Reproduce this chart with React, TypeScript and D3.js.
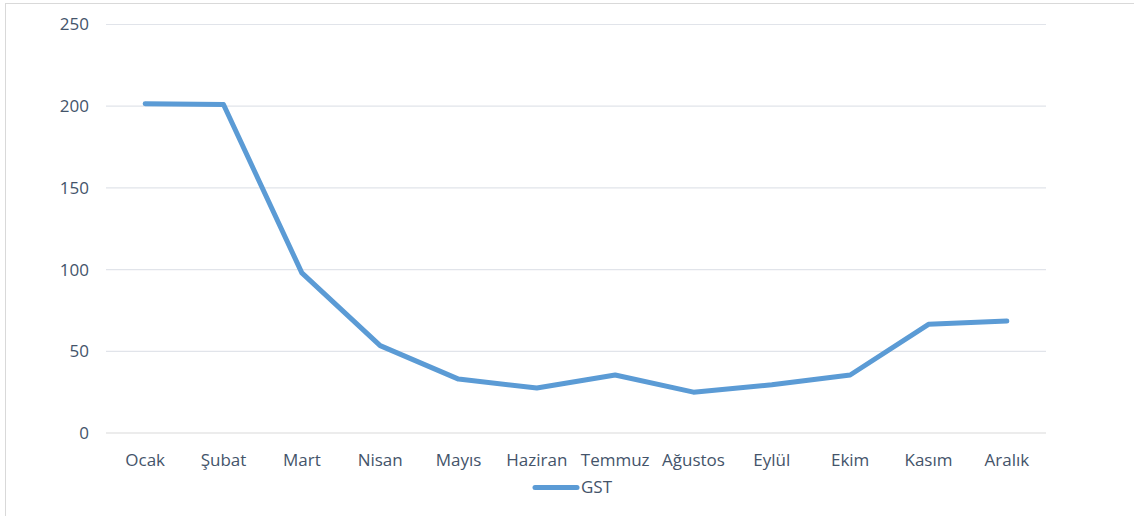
import React from "react";
import * as d3 from "d3";

const categories = ["Ocak", "Şubat", "Mart", "Nisan", "Mayıs", "Haziran", "Temmuz", "Ağustos", "Eylül", "Ekim", "Kasım", "Aralık"];
const gstValues = [201.5, 201, 98, 53.5, 33, 27.5, 35.5, 25, 29.5, 35.5, 66.5, 68.5];
const yTicks = [0, 50, 100, 150, 200, 250];
const seriesName = "GST";

const W = 1134;
const H = 516;
const left = 106;
const right = 1046;
const top = 24.5;
const bottom = 433;
const font = "'Open Sans', 'Noto Sans', sans-serif";
const textColor = "#44546A";
const lineColor = "#5B9BD5";
const fs = 17;

export default function App() {
  const x = d3.scaleBand<string>().domain(categories).range([left, right]).padding(0);
  const y = d3.scaleLinear().domain([0, 250]).range([bottom, top]);
  const line = d3
    .line<number>()
    .x((_, i) => (x(categories[i]) as number) + x.bandwidth() / 2)
    .y((d) => y(d));

  return (
    <svg width={W} height={H} style={{ position: "absolute", left: 0, top: 0, display: "block" }}>
      <rect x={0} y={0} width={W} height={H} fill="#fff" />
      <rect x={5.5} y={3.5} width={W + 10} height={H + 10} fill="none" stroke="#D9D9D9" strokeWidth={1} />
      {yTicks.map((t) => (
        <g key={t}>
          <line x1={left} x2={right} y1={y(t)} y2={y(t)} stroke={t === 0 ? "#D9D9D9" : "#E1E4EA"} strokeWidth={1.2} />
          <text x={89} y={y(t)} dy="0.35em" textAnchor="end" fontFamily={font} fontSize={fs} fill={textColor}>
            {t}
          </text>
        </g>
      ))}
      {categories.map((c) => (
        <text
          key={c}
          x={(x(c) as number) + x.bandwidth() / 2}
          y={466}
          textAnchor="middle"
          fontFamily={font}
          fontSize={fs}
          fill={textColor}
        >
          {c}
        </text>
      ))}
      <path d={line(gstValues) || ""} fill="none" stroke={lineColor} strokeWidth={5} strokeLinejoin="round" strokeLinecap="round" />
      <line x1={535} x2={577} y1={487.5} y2={487.5} stroke={lineColor} strokeWidth={5} strokeLinecap="round" />
      <text x={581} y={487.5} dy="0.35em" fontFamily={font} fontSize={fs} fill={textColor}>
        {seriesName}
      </text>
    </svg>
  );
}
